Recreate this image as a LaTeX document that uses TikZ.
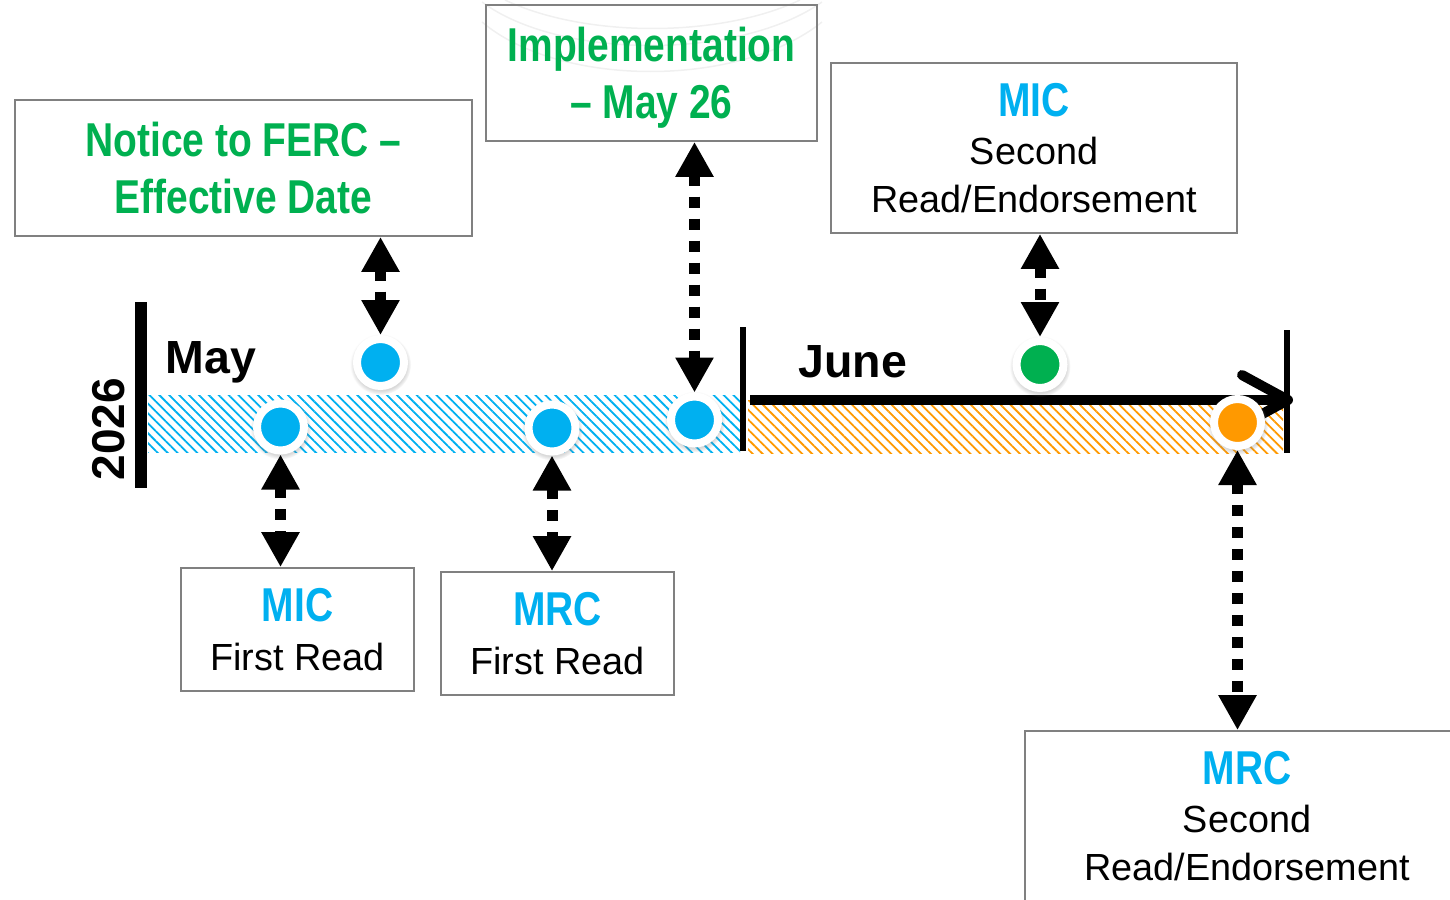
\documentclass[tikz,border=0pt]{standalone}
\usepackage{fontspec}
\setmainfont{Liberation Sans}
\newfontfamily\narrowbf{Liberation Sans}[FakeStretch=0.82]
\usepackage{tikz}
\usetikzlibrary{calc}
\usetikzlibrary{arrows.meta}
\usetikzlibrary{positioning}
\usetikzlibrary{patterns.meta}
\usetikzlibrary{shadows}
\definecolor{micblue}{RGB}{0, 176, 240}
\definecolor{keygreen}{RGB}{0, 176, 80}
\definecolor{juneorange}{RGB}{255, 153, 0}
\definecolor{boxgray}{RGB}{128, 128, 128}
\newcommand{\boxhead}[2]{{\color{#1}\narrowbf\bfseries\fontsize{47.5}{57}\selectfont #2}}

\begin{document}
\begin{tikzpicture}[x=1pt, y=-1pt,
    datebox/.style={draw=boxgray, line width=1.8pt, align=center, text depth=0pt, inner sep=0pt},
    keydate/.style={circle, draw=white, line width=8pt, minimum size=47pt, inner sep=0pt,
        circular drop shadow={shadow xshift=0pt, shadow yshift=-1.5pt, shadow scale=1.3, opacity=0.3}},
    link/.style={line width=11pt, dash pattern=on 11pt off 11pt,
        {Triangle[length=35pt,width=36pt]}-{Triangle[length=35pt,width=36pt]}},
    hatch/.style={pattern={Lines[angle=-45,distance=7pt,line width=1.8pt]}}]
    \useasboundingbox (0,0) rectangle (1450,899);
    % faint background arcs behind the top box
    \draw[gray!12, line width=1.5pt] (482,2) .. controls (560,60) and (740,60) .. (822,2);
    \draw[gray!12, line width=1.5pt] (482,22) .. controls (560,88) and (740,88) .. (822,22);
    \draw[gray!12, line width=1.5pt] (505,0) .. controls (585,38) and (720,38) .. (800,0);
    % boxes
    \node[datebox, minimum width=457pt, minimum height=136pt, font=\fontsize{47.5}{57}\selectfont] (ferc) at (243.5,168)
        {\boxhead{keygreen}{Notice to FERC –}\\\boxhead{keygreen}{Effective Date}};
    \node[datebox, minimum width=331pt, minimum height=136pt, font=\fontsize{47.5}{57}\selectfont] (impl) at (651.5,73)
        {\boxhead{keygreen}{Implementation}\\\boxhead{keygreen}{– May 26}};
    \node[datebox, minimum width=406pt, minimum height=170pt, font=\fontsize{37.8}{48}\selectfont] (mictwo) at (1034,148)
        {\boxhead{micblue}{MIC}\\Second\\Read/Endorsement};
    \node[datebox, minimum width=233pt, minimum height=123pt, font=\fontsize{37.8}{49}\selectfont] (micone) at (297.5,629.5)
        {\boxhead{micblue}{MIC}\\First Read};
    \node[datebox, minimum width=233pt, minimum height=123pt, font=\fontsize{37.8}{49}\selectfont] (mrcone) at (557.5,633.5)
        {\boxhead{micblue}{MRC}\\First Read};
    \node[datebox, minimum width=444pt, minimum height=170pt, font=\fontsize{37.8}{48}\selectfont] (mrctwo) at (1247,816)
        {\boxhead{micblue}{MRC}\\Second\\Read/Endorsement};
    % timeline
    \fill[hatch, pattern color=micblue] (148,395) rectangle (740,452);
    \fill[hatch, pattern color=juneorange] (748,400) rectangle (1283,453);
    \fill (135,302) rectangle (147,488);
    \fill (740,327) rectangle (746,451);
    \fill (1284,330) rectangle (1290,453);
    \coordinate (junestart) at (750,400);
    \coordinate (juneend) at (1293,400);
    \draw[line width=10pt, -{Straight Barb[length=46pt,width=50pt,round]}] (junestart) -- (juneend);
    \node[font=\bfseries\fontsize{46.5}{50}\selectfont, anchor=base west] (may) at (162,373.5) {May};
    \node[font=\bfseries\fontsize{46.5}{50}\selectfont, anchor=base west] (june) at (795,377) {June};
    \node[font=\bfseries\fontsize{46}{50}\selectfont, rotate=90] (year) at (109,429) {2026};
    % dates
    \node[keydate, fill=micblue] (dotA) at (280.5,427) {};
    \node[keydate, fill=micblue] (dotB) at (380.5,362.5) {};
    \node[keydate, fill=micblue] (dotC) at (552,428) {};
    \node[keydate, fill=micblue] (dotD) at (694.5,420) {};
    \node[keydate, fill=keygreen] (dotE) at (1040,364.5) {};
    \node[keydate, fill=juneorange] (dotF) at (1237.5,422.5) {};
    % links
    \draw[link] (ferc.south -| dotB) -- (dotB.north);
    \draw[link] (impl.south -| dotD) -- (dotD.north);
    \draw[link] (mictwo.south -| dotE) -- (dotE.north);
    \draw[link] (dotA.south) -- (dotA.south |- micone.north);
    \draw[link] (dotC.south) -- (dotC.south |- mrcone.north);
    \draw[link] (dotF.south) -- (dotF.south |- mrctwo.north);
\end{tikzpicture}
\end{document}
